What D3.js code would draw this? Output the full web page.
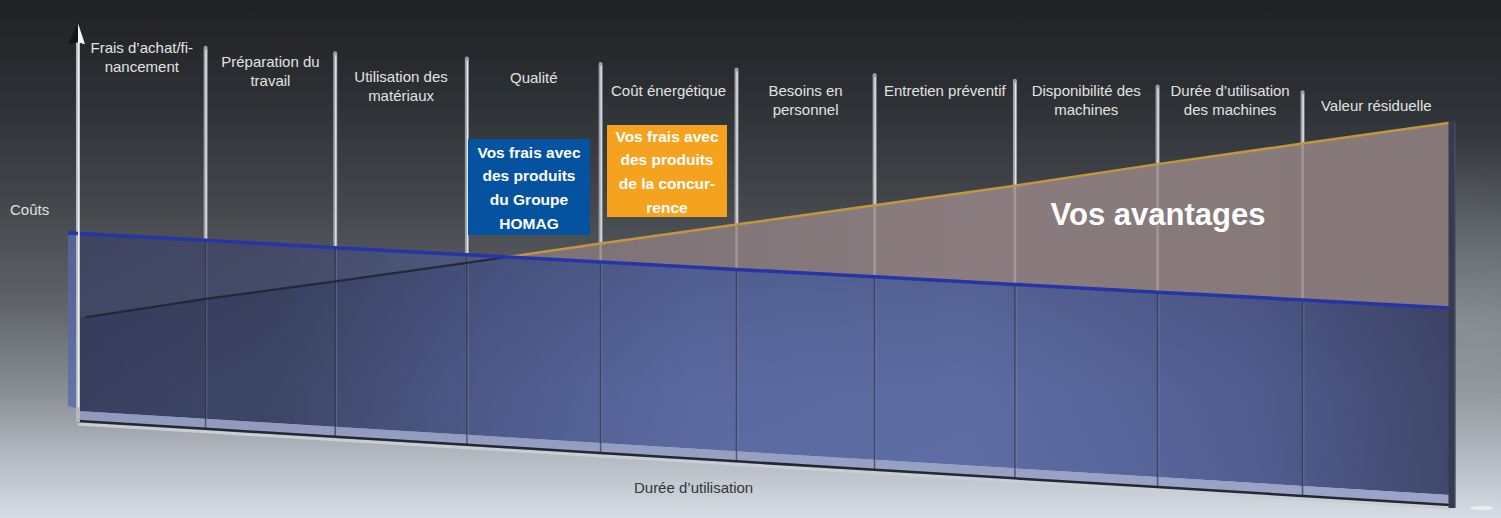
<!DOCTYPE html>
<html>
<head>
<meta charset="utf-8">
<script src="https://cdn.jsdelivr.net/npm/d3@7"></script>
<style>
  body { margin: 0; background: #202225; }
  svg { display: block; }
  text { font-family: "Liberation Sans", Arial, sans-serif; }
</style>
</head>
<body>
<script>
const width = 1501, height = 518;

// categories between the poles, along the service life
const categories = [
  ["Frais d’achat/fi-", "nancement"],
  ["Préparation du", "travail"],
  ["Utilisation des", "matériaux"],
  ["Qualité"],
  ["Coût énergétique"],
  ["Besoins en", "personnel"],
  ["Entretien préventif"],
  ["Disponibilité des", "machines"],
  ["Durée d’utilisation", "des machines"],
  ["Valeur résiduelle"]
];

// costs read at each pole (0 = start, 10 = end of service life), scale 0..100
const homagCosts = [48.1, 48.0, 47.8, 47.7, 47.6, 47.5, 47.4, 47.3, 47.2, 47.1, 47.0];
const rivalCosts = [26.6, 33.1, 39.3, 45.7, 52.2, 58.6, 65.0, 71.4, 78.2, 84.7, 91.2];
const poleValue = 97;
const axisValue = 102;

const homagBox = ["Vos frais avec", "des produits", "du Groupe", "HOMAG"];
const rivalBox = ["Vos frais avec", "des produits", "de la concur-", "rence"];
const yTitle = "Coûts";
const xTitle = "Durée d’utilisation";
const gainLabel = "Vos avantages";

// layout: first-line centre of each category label
const labelTop = [48, 62, 77, 78, 91, 91, 91, 91, 91, 106];

// perspective: poles get a bit wider apart and taller towards the right
const persp = t => t * (1 - 0.077) / (1 - 0.077 * t);
const xLin = d3.scaleLinear().domain([0, 1]).range([78, 1450]);
const baseY = d3.scaleLinear().domain([78, 1450]).range([421, 505]);
const depth = d3.scaleLinear().domain([78, 1450]).range([1, 1.075]);
const vScale = d3.scaleLinear().domain([0, 100]).range([0, 390]);

const xPos = i => xLin(persp(i / 10));
const yPos = (i, v) => { const x = xPos(i); return baseY(x) - vScale(v) * depth(x); };

const svg = d3.select("body").append("svg")
  .attr("width", width)
  .attr("height", height);

const defs = svg.append("defs");

// background
const bg = defs.append("linearGradient").attr("id", "bg")
  .attr("x1", 0).attr("y1", 0).attr("x2", 0).attr("y2", 1);
[[0, "#1f2124"], [0.2, "#2e3135"], [0.4, "#44484d"], [0.58, "#5e6268"],
 [0.75, "#878c93"], [0.87, "#b0b6bd"], [1, "#d6dde4"]]
  .forEach(s => bg.append("stop").attr("offset", s[0]).attr("stop-color", s[1]));

const glow = defs.append("radialGradient").attr("id", "glow")
  .attr("cx", 0.97).attr("cy", 0.62).attr("r", 0.35);
glow.append("stop").attr("offset", 0).attr("stop-color", "#b0b6be").attr("stop-opacity", 0.45);
glow.append("stop").attr("offset", 1).attr("stop-color", "#b0b6be").attr("stop-opacity", 0);

// blue fill
const blueGrad = defs.append("linearGradient").attr("id", "blueFill")
  .attr("gradientUnits", "userSpaceOnUse")
  .attr("x1", 70).attr("y1", 0).attr("x2", 1455).attr("y2", 0);
[[0, "#394060"], [0.15, "#3f4768"], [0.3, "#4f5b8c"], [0.45, "#5c6ba3"],
 [0.65, "#5f6ea5"], [0.85, "#535f93"], [1, "#40476a"]]
  .forEach(s => blueGrad.append("stop").attr("offset", s[0]).attr("stop-color", s[1]));

const shade = defs.append("linearGradient").attr("id", "shade")
  .attr("x1", 0).attr("y1", 0).attr("x2", 0).attr("y2", 1);
shade.append("stop").attr("offset", 0).attr("stop-color", "#15182a").attr("stop-opacity", 0.2);
shade.append("stop").attr("offset", 0.6).attr("stop-color", "#15182a").attr("stop-opacity", 0.03);
shade.append("stop").attr("offset", 1).attr("stop-color", "#15182a").attr("stop-opacity", 0);

const orangeGrad = defs.append("linearGradient").attr("id", "orangeFill")
  .attr("gradientUnits", "userSpaceOnUse")
  .attr("x1", 480).attr("y1", 0).attr("x2", 1450).attr("y2", 0);
orangeGrad.append("stop").attr("offset", 0).attr("stop-color", "#7b7076");
orangeGrad.append("stop").attr("offset", 0.5).attr("stop-color", "#8a7c7e");
orangeGrad.append("stop").attr("offset", 1).attr("stop-color", "#867878");

svg.append("rect").attr("width", width).attr("height", height).attr("fill", "url(#bg)");
svg.append("rect").attr("width", width).attr("height", height).attr("fill", "url(#glow)");

// build points at each pole plus the crossing of both cost lines
const pts = [];
homagCosts.forEach((h, i) => {
  pts.push({i: i, h: h, c: rivalCosts[i]});
  if (i < homagCosts.length - 1) {
    const d0 = rivalCosts[i] - h, d1 = rivalCosts[i + 1] - homagCosts[i + 1];
    if (d0 < 0 && d1 > 0) {
      const f = -d0 / (d1 - d0);
      const hv = h + f * (homagCosts[i + 1] - h);
      pts.push({i: i + f, h: hv, c: hv});
    }
  }
});

// poles above the areas
const poles = d3.range(1, 10);
poles.forEach(i => {
  const x = xPos(i);
  const top = yPos(i, poleValue);
  const upper = Math.min(yPos(i, homagCosts[i]), yPos(i, rivalCosts[i]));
  svg.append("line").attr("x1", x).attr("x2", x).attr("y1", top).attr("y2", upper)
    .attr("stroke", "#9a9ea5").attr("stroke-width", 4).attr("stroke-linecap", "round");
  svg.append("line").attr("x1", x + 0.5).attr("x2", x + 0.5).attr("y1", top + 2).attr("y2", upper)
    .attr("stroke", "#e4e6ea").attr("stroke-width", 1.3);
});

// blue (HOMAG) area
const blueArea = d3.area()
  .x(d => xPos(d.i))
  .y0(d => baseY(xPos(d.i)) - 10)
  .y1(d => yPos(d.i, d.h));
svg.append("path").datum(pts).attr("d", blueArea).attr("fill", "url(#blueFill)");
svg.append("path").datum(pts).attr("d", blueArea).attr("fill", "url(#shade)");

// lighter layer between the competitor line and the HOMAG line (left part)
const leftLayer = d3.area()
  .x(d => xPos(d.i))
  .y0(d => yPos(d.i, Math.min(d.c, d.h)))
  .y1(d => yPos(d.i, d.h));
svg.append("path").datum(pts.filter(d => d.c <= d.h)).attr("d", leftLayer)
  .attr("fill", "#9a9cac").attr("opacity", 0.12);

// left side face
const x0 = xPos(0);
svg.append("path")
  .attr("d", `M${x0 - 10},${yPos(0, homagCosts[0]) - 0.5} L${x0},${yPos(0, homagCosts[0])} L${x0},${baseY(x0) - 12} L${x0 - 10},${baseY(x0) - 15} Z`)
  .attr("fill", "#5868aa").attr("opacity", 0.75);

// light band under the blue area
const band = d3.area()
  .x(d => xPos(d.i))
  .y0(d => baseY(xPos(d.i)))
  .y1(d => baseY(xPos(d.i)) - 10);
svg.append("path").datum(pts).attr("d", band).attr("fill", "#8e98c4").attr("opacity", 0.8);

// orange (competitor) area
const orangeArea = d3.area()
  .x(d => xPos(d.i))
  .y0(d => yPos(d.i, d.h))
  .y1(d => yPos(d.i, Math.max(d.c, d.h)));
svg.append("path").datum(pts).attr("d", orangeArea).attr("fill", "url(#orangeFill)");

// pole parts seen through the areas
poles.forEach(i => {
  const x = xPos(i);
  const yh = yPos(i, homagCosts[i]);
  const yc = yPos(i, rivalCosts[i]);
  if (yc < yh) {
    svg.append("line").attr("x1", x).attr("x2", x).attr("y1", yc).attr("y2", yh)
      .attr("stroke", "#c8bfa8").attr("stroke-width", 2.5).attr("opacity", 0.45);
  }
  svg.append("line").attr("x1", x).attr("x2", x).attr("y1", yh).attr("y2", baseY(x) + 1)
    .attr("stroke", "#2e3346").attr("stroke-width", 1.6).attr("opacity", 0.65);
  svg.append("line").attr("x1", x + 1.2).attr("x2", x + 1.2).attr("y1", yh).attr("y2", baseY(x))
    .attr("stroke", "#9aa2c4").attr("stroke-width", 1).attr("opacity", 0.35);
});

// floor edge
const edge = d3.line().x(d => xPos(d.i)).y(d => baseY(xPos(d.i)));
svg.append("path").datum(pts).attr("d", edge).attr("transform", "translate(0,3)")
  .attr("fill", "none").attr("stroke", "#c9ced6").attr("stroke-width", 3);
svg.append("path").datum(pts).attr("d", edge)
  .attr("fill", "none").attr("stroke", "#25282e").attr("stroke-width", 2.5);

// competitor line: dark inside the blue area, orange above it
const rivalLine = d3.line().x(d => xPos(d.i)).y(d => yPos(d.i, d.c));
const darkPart = pts.filter(d => d.c <= d.h);
const darkStart = {x: xPos(darkPart[0].i) + 8};
svg.append("path").datum(darkPart)
  .attr("d", d3.line().x((d, k) => k === 0 ? darkStart.x : xPos(d.i)).y(d => yPos(d.i, d.c)))
  .attr("fill", "none").attr("stroke", "#1f2330").attr("stroke-width", 2.2).attr("opacity", 0.85);
svg.append("path").datum(pts.filter(d => d.c >= d.h))
  .attr("d", rivalLine)
  .attr("fill", "none").attr("stroke", "#c0963f").attr("stroke-width", 2.5);

// HOMAG line
const homagLine = d3.line().x(d => d.x).y(d => d.y);
const homagPts = [{x: x0 - 10, y: yPos(0, homagCosts[0]) - 0.5}]
  .concat(pts.map(d => ({x: xPos(d.i), y: yPos(d.i, d.h)})));
svg.append("path").datum(homagPts).attr("d", homagLine)
  .attr("fill", "none").attr("stroke", "#2634a8").attr("stroke-width", 3.5);

// right end post
const xe = xPos(10);
svg.append("line").attr("x1", xe + 2).attr("x2", xe + 2)
  .attr("y1", yPos(10, rivalCosts[10]) - 2).attr("y2", baseY(xe) + 3)
  .attr("stroke", "#363b50").attr("stroke-width", 7);
svg.append("line").attr("x1", xe + 5).attr("x2", xe + 5)
  .attr("y1", yPos(10, rivalCosts[10])).attr("y2", baseY(xe) + 2)
  .attr("stroke", "#5a6078").attr("stroke-width", 1.2).attr("opacity", 0.6);
svg.append("ellipse").attr("cx", xe + 32).attr("cy", baseY(xe) + 3)
  .attr("rx", 12).attr("ry", 2).attr("fill", "#eef2f6").attr("opacity", 0.8);

// cost axis with arrow
const tip = yPos(0, axisValue);
svg.append("line").attr("x1", x0).attr("x2", x0).attr("y1", tip + 18).attr("y2", baseY(x0) + 1)
  .attr("stroke", "#b4b8be").attr("stroke-width", 4);
svg.append("line").attr("x1", x0 + 0.5).attr("x2", x0 + 0.5).attr("y1", tip + 18).attr("y2", baseY(x0) - 14)
  .attr("stroke", "#eceef0").attr("stroke-width", 1.4);
svg.append("path").attr("d", `M${x0},${tip} L${x0 - 10},${tip + 21} L${x0},${tip + 19} Z`).attr("fill", "#141518");
svg.append("path").attr("d", `M${x0},${tip} L${x0 + 7},${tip + 21} L${x0},${tip + 19} Z`).attr("fill", "#f4f5f6");
svg.append("line").attr("x1", x0 - 10).attr("x2", x0).attr("y1", yPos(0, homagCosts[0]) - 0.5).attr("y2", yPos(0, homagCosts[0]))
  .attr("stroke", "#2634a8").attr("stroke-width", 3.5);

// category labels
const labels = svg.append("g").attr("fill", "#e2e2e2").attr("font-size", 15).attr("text-anchor", "middle");
categories.forEach((lines, i) => {
  const cx = (xPos(i) + xPos(i + 1)) / 2;
  const t = labels.append("text").attr("x", cx).attr("y", labelTop[i] + 5);
  lines.forEach((s, k) => t.append("tspan").attr("x", cx).attr("dy", k === 0 ? 0 : 19).text(s));
});

// axis titles
svg.append("text").attr("x", 10).attr("y", 215).attr("font-size", 15).attr("fill", "#e0e0e0").text(yTitle);
svg.append("text").attr("x", (xPos(4) + xPos(5)) / 2 + 25).attr("y", 493).attr("font-size", 15)
  .attr("text-anchor", "middle").attr("fill", "#34373c").text(xTitle);

// legend boxes
function box(x, y, w, h, color, lines, firstY) {
  svg.append("rect").attr("x", x).attr("y", y).attr("width", w).attr("height", h).attr("fill", color);
  const t = svg.append("text").attr("fill", "#ffffff").attr("font-weight", "bold")
    .attr("font-size", 15.5).attr("text-anchor", "middle");
  lines.forEach((s, k) => t.append("tspan").attr("x", x + w / 2).attr("y", firstY + k * 23.7).text(s));
}
box(468, 139, 122, 96, "#0553a0", homagBox, 157.5);
box(607, 125, 120, 92, "#f5a31f", rivalBox, 141.5);

// gain label
svg.append("text").attr("x", 1158).attr("y", 225).attr("font-size", 31).attr("font-weight", "bold")
  .attr("text-anchor", "middle").attr("fill", "#ffffff").text(gainLabel);
</script>
</body>
</html>
